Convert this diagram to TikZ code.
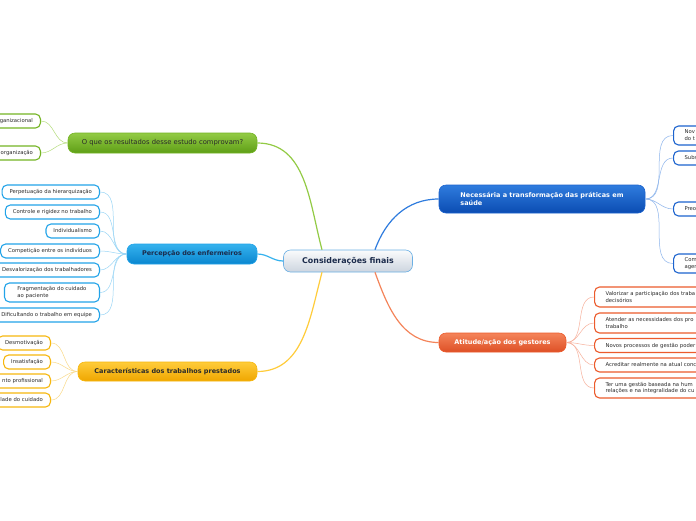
\documentclass[tikz,border=0pt]{standalone}
\usepackage{fontspec}
\setmainfont{DejaVu Sans}
\usetikzlibrary{calc}
\definecolor{grA}{HTML}{93CB45}
\definecolor{grB}{HTML}{5E9E16}
\definecolor{grL}{HTML}{74B424}
\definecolor{grC}{HTML}{B4DC7C}
\definecolor{blA}{HTML}{35B2EE}
\definecolor{blB}{HTML}{0A86CF}
\definecolor{blL}{HTML}{22A3E8}
\definecolor{blC}{HTML}{9AD6F6}
\definecolor{yeA}{HTML}{FFCC3A}
\definecolor{yeB}{HTML}{EFA600}
\definecolor{yeL}{HTML}{F6B70E}
\definecolor{yeC}{HTML}{FADA88}
\definecolor{dbA}{HTML}{2F7CDE}
\definecolor{dbB}{HTML}{0B4CB2}
\definecolor{dbL}{HTML}{1C63CE}
\definecolor{dbC}{HTML}{8DB5EC}
\definecolor{orA}{HTML}{F4845A}
\definecolor{orB}{HTML}{DE5026}
\definecolor{orL}{HTML}{EC5B2C}
\definecolor{orC}{HTML}{F7B19C}
\definecolor{ctA}{HTML}{FAFBFC}
\definecolor{ctB}{HTML}{CDD5DF}
\definecolor{ctL}{HTML}{6CB0E4}
\definecolor{ctT}{HTML}{1B2B4B}
\definecolor{txt}{HTML}{2A2A2A}
\tikzset{
  mainbox/.style={rounded corners=7pt, line width=0.6pt, inner xsep=8pt, inner ysep=3pt,
    font=\fontsize{6.5}{8}\selectfont\bfseries},
  kid/.style={rounded corners=5pt, line width=1.1pt, fill=white, minimum height=14pt,
    inner xsep=7.5pt, inner ysep=2pt, text=txt, font=\fontsize{5.3}{6.8}\selectfont},
  cutL/.style={text width=120pt, align=right},
  cutR/.style={text width=150pt, align=left, inner xsep=11pt},
  mainline/.style={line width=1.2pt},
  kidline/.style={line width=0.5pt},
}
\begin{document}
\begin{tikzpicture}[x=1pt,y=1pt]
\useasboundingbox (0,0) rectangle (696,-520);
\clip (0,0) rectangle (696,-520);
\fill[white] (0,0) rectangle (696,-520);

% main nodes
\node[mainbox, draw=ctL, top color=ctA, bottom color=ctB, text=ctT,
  minimum width=129pt, minimum height=22pt, font=\fontsize{7.9}{9}\selectfont\bfseries]
  (c) at (348,-261) {Considerações finais};
\node[mainbox, draw=grL, top color=grA, bottom color=grB, text=txt,
  minimum width=189pt, minimum height=20pt, font=\fontsize{6.8}{8}\selectfont]
  (g) at (162.5,-143) {O que os resultados desse estudo comprovam?};
\node[mainbox, draw=blL, top color=blA, bottom color=blB, text=ctT,
  minimum width=130pt, minimum height=20pt]
  (p) at (192,-254) {Percepção dos enfermeiros};
\node[mainbox, draw=yeL, top color=yeA, bottom color=yeB, text=txt,
  minimum width=179pt, minimum height=19pt]
  (y) at (167.5,-371.5) {Características dos trabalhos prestados};
\node[mainbox, draw=dbL, top color=dbA, bottom color=dbB, text=white,
  minimum width=206pt, minimum height=28pt, align=left]
  (b) at (542,-199) {Necessária a transformação das práticas em\\saúde};
\node[mainbox, draw=orL, top color=orA, bottom color=orB, text=white,
  minimum width=127pt, minimum height=19pt]
  (o) at (502.5,-342.5) {Atitude/ação dos gestores};

% main connectors
\draw[mainline, grA] ($(c.north)+(-26,0)$) to[out=105, in=0] (g.east);
\draw[mainline, blA] (c.west) to[out=180, in=0] (p.east);
\draw[mainline, yeA] ($(c.south)+(-26,0)$) to[out=-105, in=0] (y.east);
\draw[mainline, dbA] ($(c.north)+(27,0)$) to[out=70, in=180] (b.west);
\draw[mainline, orA] ($(c.south)+(27,0)$) to[out=-70, in=180] (o.west);

% green children
\node[kid, draw=grL, cutL, anchor=east] (g1) at (41,-121) {ganizacional};
\node[kid, draw=grL, cutL, anchor=east] (g2) at (41,-153) {organização};
\foreach \k in {g1,g2} \draw[kidline, grC] (g.west) to[out=180, in=0] (\k.east);

% blue children
\node[kid, draw=blL, anchor=east] (p1) at (100,-192) {Perpetuação da hierarquização};
\node[kid, draw=blL, anchor=east] (p2) at (100,-212) {Controle e rigidez no trabalho};
\node[kid, draw=blL, anchor=east] (p3) at (100,-231) {Individualismo};
\node[kid, draw=blL, anchor=east] (p4) at (100,-251) {Competição entre os indivíduos};
\node[kid, draw=blL, anchor=east] (p5) at (100,-270) {Desvalorização dos trabalhadores};
\node[kid, draw=blL, anchor=east, align=left, minimum width=95pt, inner xsep=12pt, minimum height=19pt]
  (p6) at (100,-292.5) {Fragmentação do cuidado\\ao paciente};
\node[kid, draw=blL, anchor=east] (p7) at (100,-315) {Dificultando o trabalho em equipe};
\foreach \k in {p1,p2,p3,p4,p5,p6,p7} \draw[kidline, blC] (p.west) to[out=180, in=0] (\k.east);

% yellow children
\node[kid, draw=yeL, anchor=east] (y1) at (51,-343) {Desmotivação};
\node[kid, draw=yeL, anchor=east] (y2) at (51,-362) {Insatisfação};
\node[kid, draw=yeL, cutL, anchor=east] (y3) at (51,-381) {nto profissional};
\node[kid, draw=yeL, cutL, anchor=east] (y4) at (51,-400) {lade do cuidado};
\foreach \k in {y1,y2,y3,y4} \draw[kidline, yeC] (y.west) to[out=180, in=0] (\k.east);

% dark blue children
\node[kid, draw=dbL, cutR, anchor=west, minimum height=19pt] (b1) at (673,-135.5) {Nov\\do t};
\node[kid, draw=dbL, cutR, anchor=west] (b2) at (673,-158) {Subst};
\node[kid, draw=dbL, cutR, anchor=west] (b3) at (673,-209) {Preoc};
\node[kid, draw=dbL, cutR, anchor=west, minimum height=19pt] (b4) at (673,-263.5) {Com\\agen};
\foreach \k in {b1,b2,b3,b4} \draw[kidline, dbC] (b.east) to[out=0, in=180] (\k.west);

% orange children
\node[kid, draw=orL, cutR, anchor=west, minimum height=20pt] (o1) at (594,-297) {Valorizar a participação dos traba\\decisórios};
\node[kid, draw=orL, cutR, anchor=west, minimum height=20pt] (o2) at (594,-323) {Atender as necessidades dos pro\\trabalho};
\node[kid, draw=orL, cutR, anchor=west] (o3) at (594,-345.5) {Novos processos de gestão poder};
\node[kid, draw=orL, cutR, anchor=west] (o4) at (594,-365) {Acreditar realmente na atual conc};
\node[kid, draw=orL, cutR, anchor=west, minimum height=20pt] (o5) at (594,-388) {Ter uma gestão baseada na hum\\relações e na integralidade do cu};
\foreach \k in {o1,o2,o3,o4,o5} \draw[kidline, orC] (o.east) to[out=0, in=180] (\k.west);
\end{tikzpicture}
\end{document}
